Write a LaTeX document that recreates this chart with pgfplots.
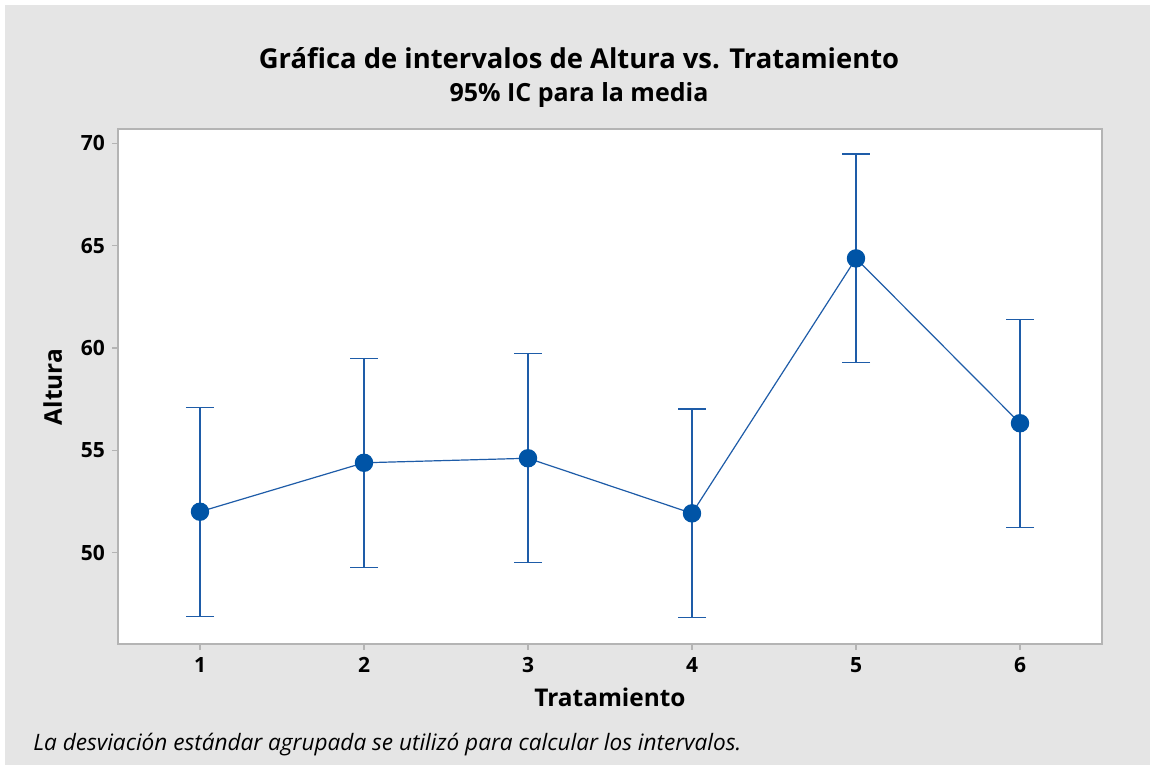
\documentclass[border=0pt]{standalone}
\usepackage{pgfplots}
\pgfplotsset{compat=1.18}
\usepackage{fontspec}
\setmainfont{Open Sans}

\definecolor{panel}{RGB}{229,229,229}
\definecolor{frame}{RGB}{180,180,180}
\definecolor{ptblue}{RGB}{0,84,166}
\definecolor{lnblue}{RGB}{30,92,168}

\begin{document}
\begin{tikzpicture}
% gray panel behind everything
\fill[white] (-59pt,-62.5pt) rectangle (516pt,322pt);
\fill[panel] (-56.5pt,-60.5pt) rectangle (516pt,319.5pt);

\begin{axis}[
  at={(0pt,0pt)}, anchor=south west,
  scale only axis,
  width=492pt, height=257.5pt,
  xmin=0.5, xmax=6.5,
  ymin=45.55, ymax=70.7,
  xtick={1,2,3,4,5,6},
  ytick={50,55,60,65,70},
  xtick pos=bottom, ytick pos=left,
  tick align=outside,
  major tick length=3pt,
  tick style={frame, line width=0.6pt},
  axis line style={frame, line width=0.8pt},
  axis background/.style={fill=white},
  /pgf/number format/assume math mode=true,
  tick label style={font=\bfseries\fontsize{10.5}{12}\selectfont},
  clip=false,
]
\addplot[color=lnblue, line width=0.6pt,
  mark=*, mark size=4.3pt, mark options={fill=ptblue, draw=ptblue},
  error bars/.cd, y dir=both, y explicit,
  error bar style={lnblue, line width=0.6pt},
  error mark options={rotate=90, mark size=7pt, lnblue, line width=0.6pt}]
  table[x=x, y=y, y error=e] {
  x  y      e
  1  52.01  5.10
  2  54.40  5.10
  3  54.62  5.10
  4  51.93  5.10
  5  64.38  5.10
  6  56.33  5.08
};
\end{axis}

\node[anchor=base, font=\bfseries\fontsize{13.7}{16}\selectfont] at (230.5pt,287.5pt)
  {Gráfica de intervalos de Altura vs. Tratamiento};
\node[anchor=base, font=\bfseries\fontsize{12.5}{14}\selectfont] at (230.5pt,271pt)
  {95\% IC para la media};
\node[anchor=base, font=\bfseries\fontsize{12.2}{14}\selectfont] at (246pt,-31.5pt)
  {Tratamiento};
\node[anchor=base, rotate=90, font=\bfseries\fontsize{12.2}{14}\selectfont] at (-28pt,128.5pt)
  {Altura};
\node[anchor=base west, inner sep=0pt, font=\itshape\fontsize{11.3}{13}\selectfont] at (-42.5pt,-53.5pt)
  {La desviación estándar agrupada se utilizó para calcular los intervalos.};

\pgfresetboundingbox
\useasboundingbox (-59pt,-62.5pt) rectangle (516pt,322pt);
\end{tikzpicture}
\end{document}
